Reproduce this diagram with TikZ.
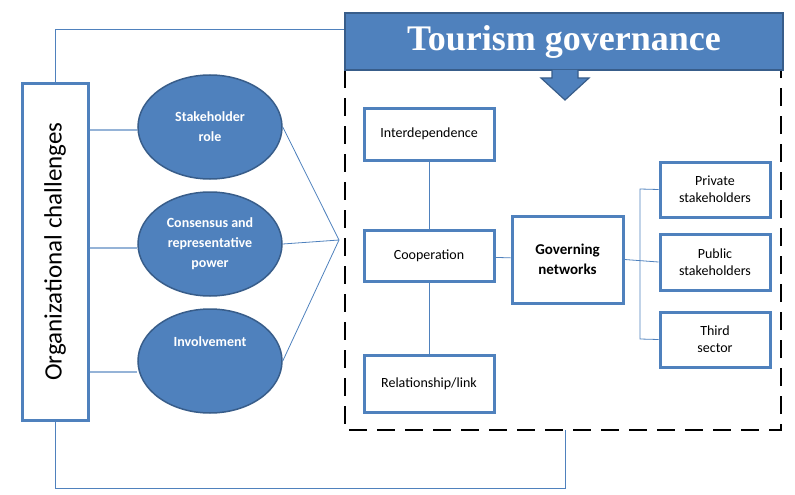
\documentclass[tikz,border=0pt]{standalone}
\usepackage{fontspec}
\setmainfont{Carlito}
\newfontfamily\titlefont{Liberation Serif}
\definecolor{bluef}{HTML}{4F81BD}
\definecolor{blued}{HTML}{385D8A}
\definecolor{bluel}{HTML}{95B3D7}
\begin{document}
\begin{tikzpicture}[x=1pt,y=-1pt,
  bx/.style={draw=bluef,line width=3pt,fill=white,inner sep=0pt,align=center,font=\fontsize{14}{17}\selectfont},
  ell/.style={ellipse,draw=blued,line width=1.5pt,fill=bluef,text=white,align=center,font=\bfseries\fontsize{14}{20}\selectfont,minimum width=144pt,minimum height=104pt,inner sep=0pt},
  ln/.style={draw=bluef,line width=0.8pt},
  lnl/.style={draw=bluel,line width=1.5pt}]
\useasboundingbox (0,0) rectangle (795,495);
\usetikzlibrary{shapes.geometric}
% outer loop
\coordinate (tl) at (55,29);
\coordinate (bl) at (55,488);
\coordinate (br) at (565,488);
% dashed box
\draw[black,line width=2.2pt,dash pattern=on 18pt off 10pt] (345,70) -- (345,430) -- (781,430) -- (781,70);
\node[bx,minimum width=66pt,minimum height=337pt] (org) at (55,251.5) {};
\node[rotate=90,font=\fontsize{25}{30}\selectfont] at (org.center) {Organizational challenges};
\draw[ln] (org.north) -- (tl) -- (345,29);
\draw[ln] (org.south) -- (bl) -- (br) -- (565,430);
\node[ell] (e1) at (210,127) {Stakeholder\\role};
\node[ell] (e2) at (210,244) {Consensus and\\representative\\power};
\node[ell] (e3) at (210,361) {Involvement\\[18pt]\mbox{}};
\draw[lnl] (org.east |- 0,130) -- (e1.west |- 0,130);
\draw[lnl] (org.east |- 0,248) -- (e2.west |- 0,248);
\draw[lnl] (org.east |- 0,372) -- (e3.west |- 0,372);
\coordinate (fan) at (339,240);
\draw[ln] (e1.east) -- (fan) -- (e3.east);
\draw[ln] (e2.east) -- (fan);
% title
\node[draw=blued,line width=1.5pt,fill=bluef,minimum width=438pt,minimum height=57pt,inner sep=0pt,text=white,font=\titlefont\bfseries\fontsize{36}{40}\selectfont] (title) at (564,41.5) {Tourism governance};
\draw[draw=blued,line width=1.2pt,fill=bluef] (552,70) -- (552,78) -- (541,78) -- (565,100) -- (589,78) -- (578,78) -- (578,70);
% boxes
\node[bx,minimum width=130pt,minimum height=52pt] (inter) at (429,134) {Interdependence};
\node[bx,minimum width=130pt,minimum height=51pt] (coop) at (429,255.5) {Cooperation};
\node[bx,minimum width=130pt,minimum height=57pt] (rel) at (429,383.5) {Relationship/link};
\node[bx,minimum width=111pt,minimum height=87pt,font=\bfseries\fontsize{15}{20}\selectfont] (gov) at (567.5,259.5) {Governing\\networks};
\node[bx,minimum width=110pt,minimum height=55pt] (priv) at (715,189.5) {Private\\stakeholders};
\node[bx,minimum width=110pt,minimum height=56pt] (pub) at (715,262) {Public\\stakeholders};
\node[bx,minimum width=110pt,minimum height=55pt] (third) at (715,339.5) {Third\\sector};
\draw[ln] (inter) -- (coop) -- (rel);
\draw[ln] (coop) -- (gov);
\draw[ln] (gov.east) -- (pub.west);
\draw[ln] (priv.west) -- (640,189) -- (640,339) -- (third.west);
\end{tikzpicture}
\end{document}
